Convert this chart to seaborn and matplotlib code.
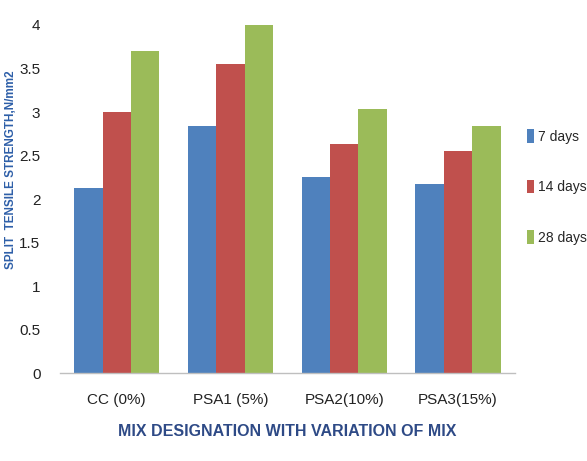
import matplotlib
matplotlib.use("Agg")
import matplotlib.pyplot as plt
import seaborn as sns
import pandas as pd

categories = ["CC (0%)", "PSA1 (5%)", "PSA2(10%)", "PSA3(15%)"]
ages = ["7 days", "14 days", "28 days"]
strength_7 = [2.13, 2.84, 2.25, 2.17]
strength_14 = [3.00, 3.55, 2.63, 2.55]
strength_28 = [3.70, 4.00, 3.03, 2.84]
colors = ["#4F81BD", "#C0504D", "#9BBB59"]

df = pd.DataFrame({
    "mix": categories * 3,
    "age": [a for a in ages for _ in categories],
    "value": strength_7 + strength_14 + strength_28,
})

sns.set_style("white")
plt.rcParams["font.family"] = ["Liberation Sans", "DejaVu Sans"]

fig = plt.figure(figsize=(5.87, 4.61), dpi=100)
ax = fig.add_axes([0.102, 0.19, 0.775, 0.756])

sns.barplot(data=df, x="mix", y="value", hue="age", hue_order=ages,
            palette=colors, width=0.75, ax=ax, saturation=1,
            edgecolor="none", linewidth=0)

ax.set_ylim(0, 4)
ax.set_yticks([0, 0.5, 1, 1.5, 2, 2.5, 3, 3.5, 4])
ax.set_yticklabels(["0", "0.5", "1", "1.5", "2", "2.5", "3", "3.5", "4"])
ax.tick_params(axis="both", length=0, labelsize=11, colors="#222222")
ax.tick_params(axis="y", pad=14)
ax.tick_params(axis="x", pad=14)

for s in ["top", "right", "left"]:
    ax.spines[s].set_visible(False)
ax.spines["bottom"].set_color("#BFBFBF")
ax.spines["bottom"].set_linewidth(1)

ax.set_xlabel("MIX DESIGNATION WITH VARIATION OF MIX", fontsize=11.5,
              fontweight="bold", color="#2E4A86", labelpad=12)
ax.set_ylabel("SPLIT  TENSILE STRENGTH,N/mm2", fontsize=8.5,
              fontweight="bold", color="#2E5FA8")
ax.yaxis.set_label_coords(-0.095, 0.585)

leg = ax.legend(loc="center left", bbox_to_anchor=(1.0, 0.535), frameon=False,
                fontsize=10, handlelength=0.5, handleheight=1.1,
                handletextpad=0.3, labelspacing=2.6)

fig.savefig("out.png", dpi=100)
